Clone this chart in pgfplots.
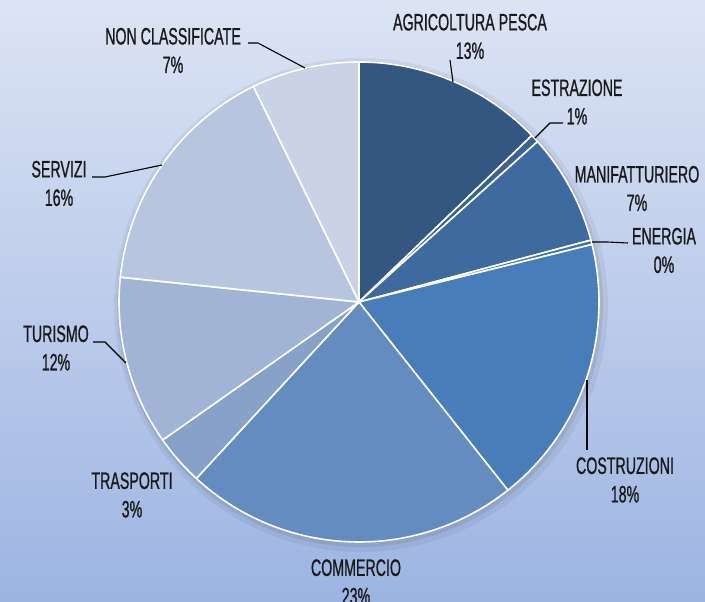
\documentclass[border=0pt]{standalone}
\usepackage{pgfplots}
\pgfplotsset{compat=1.18}
\usepackage{fontspec}
\newfontfamily\labfont[FakeStretch=0.6,FakeBold=0.8]{Liberation Sans}

\definecolor{bgtop}{HTML}{DCE4F4}
\definecolor{bgbot}{HTML}{9DB4E2}
\definecolor{c1}{HTML}{335780}
\definecolor{c2}{HTML}{3A6392}
\definecolor{c3}{HTML}{3E6A9F}
\definecolor{c4}{HTML}{4673AE}
\definecolor{c5}{HTML}{497DB9}
\definecolor{c6}{HTML}{648CC1}
\definecolor{c7}{HTML}{88A1C8}
\definecolor{c8}{HTML}{A2B4D6}
\definecolor{c9}{HTML}{B8C5DF}
\definecolor{c10}{HTML}{CAD3E5}

% shares (percent), clockwise from 12 o'clock
\def\pA{12.8}  % agricoltura pesca
\def\pB{0.55}  % estrazione
\def\pC{7.5}   % manifatturiero
\def\pD{0.3}   % energia
\def\pE{18.2}  % costruzioni
\def\pF{22.5}  % commercio
\def\pG{3.4}   % trasporti
\def\pH{11.4}  % turismo
\def\pI{16.1}  % servizi
\def\pJ{7.25}  % non classificate

\pgfmathsetmacro\aA{90}
\pgfmathsetmacro\aB{\aA-3.6*\pA}
\pgfmathsetmacro\aC{\aB-3.6*\pB}
\pgfmathsetmacro\aD{\aC-3.6*\pC}
\pgfmathsetmacro\aE{\aD-3.6*\pD}
\pgfmathsetmacro\aF{\aE-3.6*\pE}
\pgfmathsetmacro\aG{\aF-3.6*\pF}
\pgfmathsetmacro\aH{\aG-3.6*\pG}
\pgfmathsetmacro\aI{\aH-3.6*\pH}
\pgfmathsetmacro\aJ{\aI-3.6*\pI}
\pgfmathsetmacro\aK{\aJ-3.6*\pJ}

\newcommand\slice[3]{%
  \addplot[fill=#3, draw=white, line width=1.6pt, line join=round,
    domain=#2:#1, samples=90, variable=\t]
    ({359+240*cos(\t)}, {300+240*sin(\t)}) -- (359,300) -- cycle;}

\tikzset{lab/.style={align=center, inner sep=0pt, text=black!90,
  font=\labfont\fontsize{23.7}{28.5}\selectfont},
  lead/.style={black, line width=1.1pt}}

\begin{document}
\begin{tikzpicture}
\begin{axis}[name=ax, width=705pt, height=602pt, scale only axis,
  xmin=0, xmax=705, ymin=0, ymax=602, hide axis, clip=false]
\addplot[draw=none, top color=bgtop, bottom color=bgbot]
  coordinates {(0,0) (705,0) (705,602) (0,602)} -- cycle;
% soft shadow
\addplot[draw=none, fill=black, fill opacity=0.05, domain=0:360, samples=120, variable=\t]
  ({361+247*cos(\t)}, {297+247*sin(\t)}) -- cycle;
\addplot[draw=none, fill=black, fill opacity=0.07, domain=0:360, samples=120, variable=\t]
  ({360+243*cos(\t)}, {298+243*sin(\t)}) -- cycle;

\slice{\aA}{\aB}{c1}
\slice{\aB}{\aC}{c2}
\slice{\aC}{\aD}{c3}
\slice{\aD}{\aE}{c4}
\slice{\aE}{\aF}{c5}
\slice{\aF}{\aG}{c6}
\slice{\aG}{\aH}{c7}
\slice{\aH}{\aI}{c8}
\slice{\aI}{\aJ}{c9}
\slice{\aJ}{\aK}{c10}

% leader lines
\draw[lead] (450,542) -- (453,520);
\draw[lead] (535,464) -- (550,479) -- (563,479);
\draw[lead] (592,360) -- (607,360) -- (628,359);
\draw[lead] (587,222) -- (587,152);
\draw[lead] (248,559) -- (258,559) -- (305,534);
\draw[lead] (92,425) -- (105,425) -- (162,437);
\draw[lead] (93,260) -- (105,260) -- (126,239);

% labels
\node[lab] at (470,565.5) {AGRICOLTURA PESCA\\13\%};
\node[lab] at (577,500) {ESTRAZIONE\\1\%};
\node[lab] at (637,413.5) {MANIFATTURIERO\\7\%};
\node[lab] at (664,351.5) {ENERGIA\\0\%};
\node[lab] at (625,122) {COSTRUZIONI\\18\%};
\node[lab] at (356,20) {COMMERCIO\\23\%};
\node[lab] at (132,107) {TRASPORTI\\3\%};
\node[lab] at (56,254) {TURISMO\\12\%};
\node[lab] at (59,418.5) {SERVIZI\\16\%};
\node[lab] at (173,551.5) {NON CLASSIFICATE\\7\%};
\end{axis}
\pgfresetboundingbox
\path[use as bounding box] (ax.south west) rectangle (ax.north east);
\end{tikzpicture}
\end{document}
